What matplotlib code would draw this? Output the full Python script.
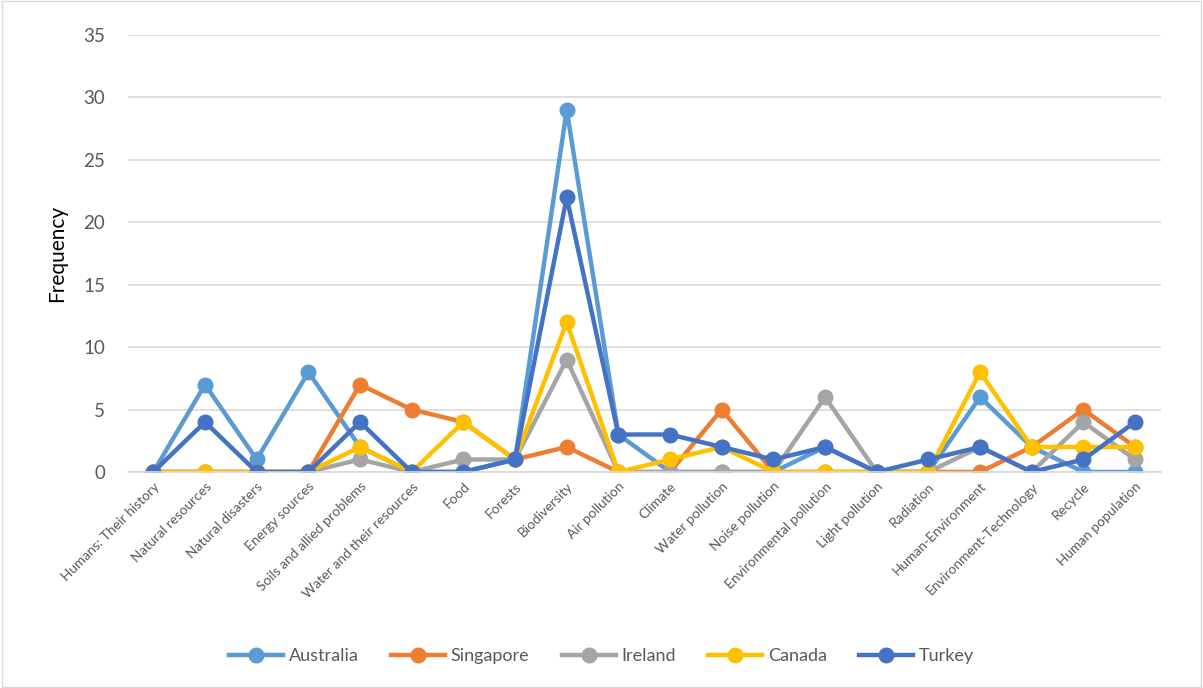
import matplotlib
matplotlib.use("Agg")
import matplotlib.pyplot as plt
from matplotlib.patches import Rectangle

plt.rcParams["font.family"] = ["Lato", "DejaVu Sans"]

topics = [
    "Humans: Their history", "Natural resources", "Natural disasters",
    "Energy sources", "Soils and allied problems", "Water and their resources",
    "Food", "Forests", "Biodiversity", "Air pollution", "Climate",
    "Water pollution", "Noise pollution", "Environmental pollution",
    "Light pollution", "Radiation", "Human-Environment",
    "Environment-Technology", "Recycle", "Human population",
]

australia = [0, 7, 1, 8, 2, 0, 0, 1, 29, 3, 0, 0, 0, 2, 0, 0, 6, 2, 0, 0]
singapore = [0, 0, 0, 0, 7, 5, 4, 1, 2, 0, 0, 5, 0, 0, 0, 0, 0, 2, 5, 2]
ireland = [0, 0, 0, 0, 1, 0, 1, 1, 9, 0, 0, 0, 0, 6, 0, 0, 2, 0, 4, 1]
canada = [0, 0, 0, 0, 2, 0, 4, 1, 12, 0, 1, 2, 0, 0, 0, 0, 8, 2, 2, 2]
turkey = [0, 4, 0, 0, 4, 0, 0, 1, 22, 3, 3, 2, 1, 2, 0, 1, 2, 0, 1, 4]

series = [
    ("Australia", australia, "#5B9BD5"),
    ("Singapore", singapore, "#ED7D31"),
    ("Ireland", ireland, "#A5A5A5"),
    ("Canada", canada, "#FFC000"),
    ("Turkey", turkey, "#4472C4"),
]

fig = plt.figure(figsize=(12.03, 6.88), dpi=100)
ax = fig.add_axes([0.106, 0.314, 0.859, 0.635])

x = range(len(topics))
for name, vals, col in series:
    ax.plot(x, vals, color=col, linewidth=3.2, marker="o", markersize=10.5,
            label=name, solid_joinstyle="round")

ax.set_xlim(-0.5, len(topics) - 0.5)
ax.set_ylim(0, 35)
ax.set_yticks(range(0, 36, 5))
ax.grid(axis="y", color="#D9D9D9", linewidth=1.2)
ax.set_axisbelow(True)
for s in ["top", "right", "left"]:
    ax.spines[s].set_visible(False)
ax.spines["bottom"].set_color("#D9D9D9")
ax.spines["bottom"].set_linewidth(1.2)
ax.tick_params(axis="both", length=0, colors="#595959")
ax.tick_params(axis="y", labelsize=13.5, pad=16)
ax.tick_params(axis="x", pad=6)
ax.set_xticks(list(x))
ax.set_xticklabels(topics, rotation=45, ha="right", rotation_mode="anchor",
                   fontsize=9.8)
ax.set_ylabel("Frequency", fontsize=15, color="black", labelpad=12)

fig.legend(loc="center", bbox_to_anchor=(0.5, 0.046), ncol=5, frameon=False,
           fontsize=13, handlelength=3.0, columnspacing=1.8,
           handletextpad=0.3, labelcolor="#595959")

fig.patches.append(Rectangle((0.002, 0.002), 0.996, 0.996, transform=fig.transFigure,
                             fill=False, edgecolor="#D9D9D9", linewidth=1))

fig.savefig("out.png", dpi=100)
